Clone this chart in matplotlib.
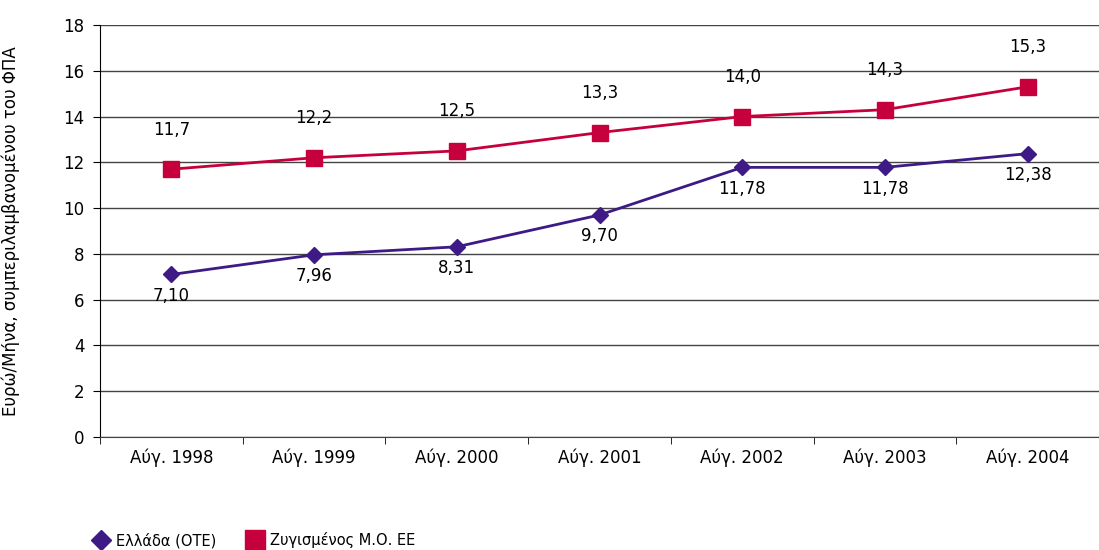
import matplotlib.pyplot as plt

plt.rcParams['font.family'] = ['DejaVu Sans']

categories = ['Αύγ. 1998', 'Αύγ. 1999', 'Αύγ. 2000', 'Αύγ. 2001', 'Αύγ. 2002', 'Αύγ. 2003', 'Αύγ. 2004']
greece = [7.10, 7.96, 8.31, 9.70, 11.78, 11.78, 12.38]
eu_avg = [11.7, 12.2, 12.5, 13.3, 14.0, 14.3, 15.3]
greece_labels = ['7,10', '7,96', '8,31', '9,70', '11,78', '11,78', '12,38']
eu_labels = ['11,7', '12,2', '12,5', '13,3', '14,0', '14,3', '15,3']

purple = '#3e1a86'
red = '#c6003d'

fig = plt.figure(figsize=(10.99, 5.5), dpi=100)
ax = fig.add_axes([100 / 1099, 1 - 437 / 550, 999 / 1099, 412 / 550])

x = range(len(categories))
ax.plot(x, greece, color=purple, lw=2, marker='D', ms=8, label='Ελλάδα (ΟΤΕ)')
ax.plot(x, eu_avg, color=red, lw=2, marker='s', ms=11, label='Ζυγισμένος Μ.Ο. ΕΕ')

for i in x:
    ax.annotate(greece_labels[i], (i, greece[i]), xytext=(0, -9), textcoords='offset points',
                ha='center', va='top', fontsize=12)
    ax.annotate(eu_labels[i], (i, eu_avg[i]), xytext=(0, 22), textcoords='offset points',
                ha='center', va='bottom', fontsize=12)

ax.set_xlim(-0.5, 6.5)
ax.set_ylim(0, 18)
ax.set_yticks(range(0, 19, 2))
ax.set_xticks(x)
ax.set_xticklabels(categories, fontsize=12)
ax.set_xticks([i + 0.5 for i in range(-1, 7)], minor=True)
ax.tick_params(axis='x', which='major', length=0, pad=8)
ax.tick_params(axis='x', which='minor', length=5, color='black')
ax.tick_params(axis='y', length=5, labelsize=12, pad=6)
ax.grid(axis='y', color='#444444', lw=1)
for s in ['top', 'right']:
    ax.spines[s].set_visible(False)
ax.spines['left'].set_color('black')
ax.spines['bottom'].set_color('#444444')

ax.set_ylabel('Ευρώ/Μήνα, συμπεριλαμβανομένου του ΦΠΑ', fontsize=12)
ax.yaxis.set_label_coords(-0.08, 0.5)

leg = fig.legend(loc='center left', bbox_to_anchor=(88 / 1099, 10 / 550), ncol=2, frameon=False,
                 fontsize=10.5, handlelength=1.0, columnspacing=2.2, handletextpad=0.5,
                 borderaxespad=0, markerscale=1.3)
for line in leg.get_lines():
    line.set_linestyle('')

plt.savefig('out.png', dpi=100)
